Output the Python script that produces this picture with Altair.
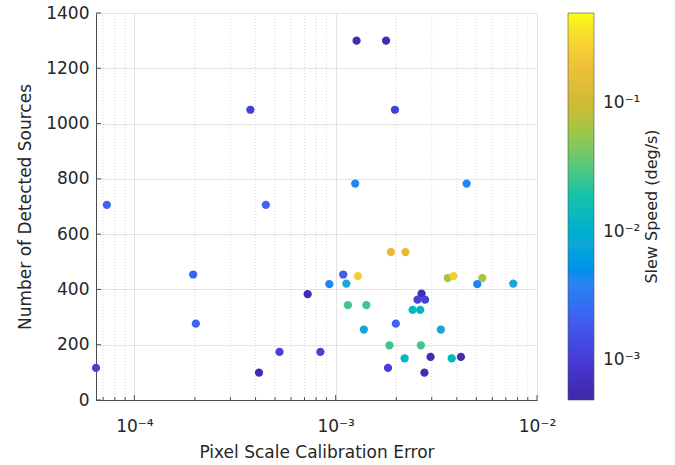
import altair as alt
import pandas as pd
import math

# ---- data ----
pixel_error = [1.27e-3, 1.78e-3, 3.77e-4, 1.97e-3, 1.25e-3, 4.47e-3, 7.3e-5, 4.5e-4,
               1.96e-4, 1.09e-3, 1.29e-3, 1.88e-3, 2.22e-3, 3.6e-3, 3.85e-3, 5.35e-3,
               9.3e-4, 1.13e-3, 5.05e-3, 7.62e-3, 7.26e-4, 2.67e-3, 2.55e-3, 2.78e-3,
               1.15e-3, 1.42e-3, 2.41e-3, 2.63e-3, 2.02e-4, 1.99e-3, 1.38e-3, 3.33e-3,
               1.85e-3, 2.65e-3, 5.26e-4, 8.4e-4, 2.2e-3, 3.77e-3, 2.96e-3, 4.19e-3,
               6.45e-5, 1.82e-3, 4.16e-4, 2.76e-3]
detected = [1300, 1300, 1050, 1050, 783, 783, 706, 706,
            454, 454, 448, 535, 535, 441, 448, 441,
            419, 421, 419, 421, 383, 385, 363, 363,
            343, 343, 326, 326, 276, 276, 255, 255,
            198, 198, 174, 174, 151, 151, 156, 156,
            116, 116, 99, 99]
slew = [6e-4, 6e-4, 1.1e-3, 1.1e-3, 4.2e-3, 4.2e-3, 2.2e-3, 2.2e-3,
        2.2e-3, 2.0e-3, 0.27, 0.144, 0.144, 0.063, 0.27, 0.063,
        4.2e-3, 7.8e-3, 4.2e-3, 7.8e-3, 6e-4, 6e-4, 1.1e-3, 1.1e-3,
        2.7e-2, 2.7e-2, 1.36e-2, 1.36e-2, 2.2e-3, 2.2e-3, 7.8e-3, 7.8e-3,
        2.7e-2, 2.7e-2, 1.1e-3, 1.1e-3, 1.36e-2, 1.36e-2, 6e-4, 6e-4,
        1.1e-3, 1.1e-3, 6e-4, 6e-4]

x_major = [1e-4, 1e-3, 1e-2]
x_minor = [7e-5, 8e-5, 9e-5,
           2e-4, 3e-4, 4e-4, 5e-4, 6e-4, 7e-4, 8e-4, 9e-4,
           2e-3, 3e-3, 4e-3, 5e-3, 6e-3, 7e-3, 8e-3, 9e-3]
y_ticks = [0, 200, 400, 600, 800, 1000, 1200, 1400]
cbar_ticks = [1e-3, 1e-2, 1e-1]

X_DOMAIN = [6.45e-5, 1e-2]
Y_DOMAIN = [0, 1400]
C_LO, C_HI = 4.9e-4, 0.5

# parula-like colour stops
parula = ["#3e26a8", "#463ad3", "#425cf0", "#2f83f1", "#18a6d8", "#16bcb8",
          "#55c87c", "#a4c546", "#e4b536", "#f4c93a", "#f9fb15"]
lo, hi = math.log10(C_LO), math.log10(C_HI)
c_domain = [10 ** (lo + (hi - lo) * i / (len(parula) - 1)) for i in range(len(parula))]

W, H = 441, 387
FONT = "DejaVu Sans"
TXT = "#262626"

df = pd.DataFrame({"x": pixel_error, "y": detected, "c": slew})
xs = alt.Scale(type="log", domain=X_DOMAIN, nice=False)
ys = alt.Scale(domain=Y_DOMAIN, nice=False)

lab = "'10' + (datum.value < 0.0005 ? '⁻⁴' : datum.value < 0.005 ? '⁻³' : datum.value < 0.05 ? '⁻²' : '⁻¹')"

X = alt.X("x:Q", scale=xs, title="Pixel Scale Calibration Error",
          axis=alt.Axis(values=x_major, labelExpr=lab, grid=True, gridColor="#e3e3e3",
                        ticks=False, labelPadding=18, titlePadding=10, labelFlush=False))
Y = alt.Y("y:Q", scale=ys, title="Number of Detected Sources",
          axis=alt.Axis(values=y_ticks, format="d", grid=True, gridColor="#e3e3e3", ticks=False,
                        labelPadding=7, titlePadding=11, labelFlush=False))

minor_grid = alt.Chart(pd.DataFrame({"x": x_minor})).mark_rule(
    color="#cfcfcf", strokeWidth=0.8, strokeDash=[1, 2]
).encode(x=X)

points = alt.Chart(df).mark_circle(size=68, opacity=1).encode(
    x=X, y=Y,
    color=alt.Color("c:Q", scale=alt.Scale(type="log", domain=c_domain, range=parula),
                    legend=alt.Legend(orient="none", legendX=472, legendY=0, direction="vertical",
                                      gradientLength=H, gradientThickness=26, title=None,
                                      values=cbar_ticks, labelExpr=lab, labelOffset=9,
                                      gradientStrokeColor="#555555", gradientStrokeWidth=0.6,
                                      labelFontSize=17, labelFont=FONT, labelColor=TXT,
                                      padding=0)),
)

yt = alt.Chart(pd.DataFrame({"y": y_ticks})).mark_rule(color="#4d4d4d", strokeWidth=1).encode(
    y=Y, x=alt.value(0), x2=alt.value(5))
xt = alt.Chart(pd.DataFrame({"x": x_major})).mark_rule(color="#4d4d4d", strokeWidth=1).encode(
    x=X, y=alt.value(H), y2=alt.value(H - 5))
xtm = alt.Chart(pd.DataFrame({"x": x_minor})).mark_rule(color="#4d4d4d", strokeWidth=1).encode(
    x=X, y=alt.value(H), y2=alt.value(H - 3))

ctitle = alt.Chart(pd.DataFrame({"t": ["Slew Speed (deg/s)"]})).mark_text(
    angle=270, fontSize=16, font=FONT, color=TXT, align="center", baseline="middle"
).encode(text="t:N", x=alt.value(556), y=alt.value(H / 2))

chart = alt.layer(minor_grid, points, yt, xt, xtm, ctitle).properties(
    width=W, height=H,
    background="white",
    autosize=alt.AutoSizeParams(type="none"),
    padding={"left": 96, "top": 13, "right": 138, "bottom": 65},
).configure_view(stroke=None).configure_axis(
    labelFont=FONT, titleFont=FONT, labelFontSize=17, titleFontSize=17,
    labelColor=TXT, titleColor=TXT, titleFontWeight="normal",
    domainColor="#4d4d4d", domainWidth=1,
)

chart.save("out.html", embed_options={"renderer": "svg", "actions": False})
